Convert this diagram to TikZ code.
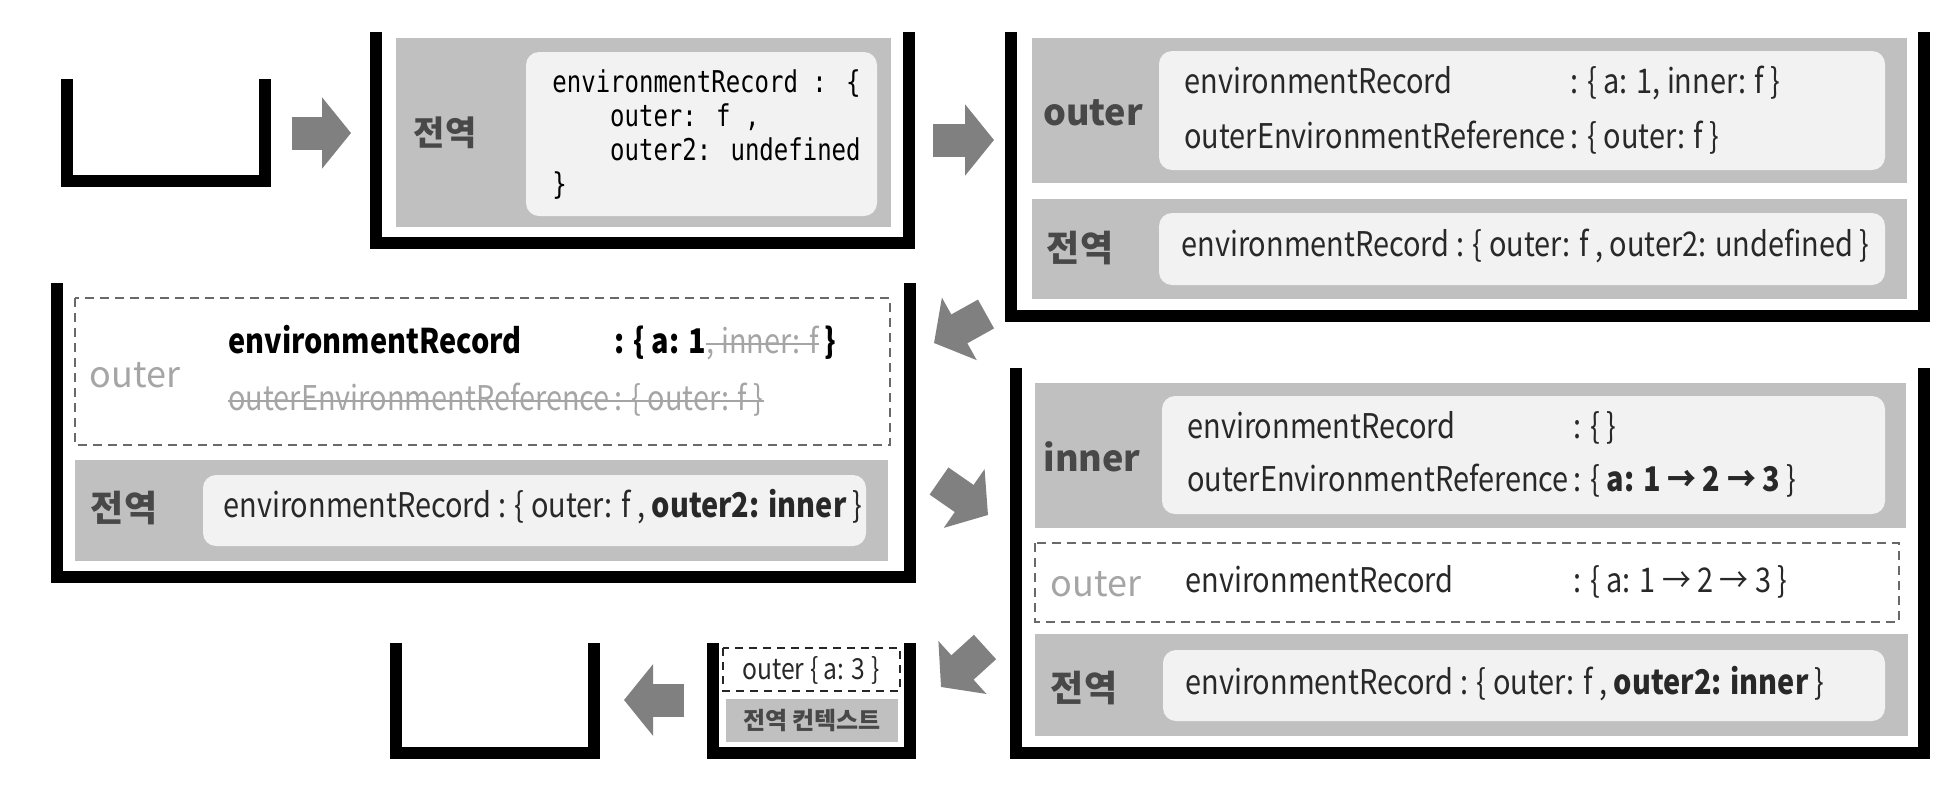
\documentclass[tikz,border=0pt]{standalone}
\usepackage{fontspec}
\setmainfont{Noto Sans CJK KR}
\newfontfamily\recfont[FakeStretch=0.85]{Noto Sans CJK KR}
\newfontfamily\codefont[FakeStretch=0.8]{DejaVu Sans Mono}
\usetikzlibrary{positioning,arrows.meta}

\definecolor{blockgray}{RGB}{192,192,192}
\definecolor{recwhite}{RGB}{242,242,242}
\definecolor{arrowgray}{RGB}{128,128,128}
\definecolor{labelgray}{RGB}{72,72,72}
\definecolor{fadedgray}{RGB}{165,165,165}
\definecolor{dashgray}{RGB}{105,105,105}
\definecolor{textdark}{RGB}{40,40,40}

\begin{document}
\begin{tikzpicture}[x=0.5pt,y=-0.5pt,
  wall/.style={line width=6.25pt,line join=miter,line cap=butt},
  block/.style={fill=blockgray},
  rec/.style={fill=recwhite,rounded corners=6.5pt},
  dashbox/.style={draw=dashgray,line width=1pt,dash pattern=on 4.5pt off 3pt},
  ctx/.style={font={\bfseries\fontsize{18}{20}\selectfont},text=labelgray,inner sep=0pt},
  oldctx/.style={font={\fontsize{18}{20}\selectfont},text=fadedgray,inner sep=0pt},
  txt/.style={font={\recfont\fontsize{17}{19}\selectfont},text=textdark,anchor=base west,inner sep=0pt},
  boldtxt/.style={txt,font={\recfont\bfseries\fontsize{17}{19}\selectfont},text=black},
  flow/.style={draw=arrowgray,line width=16.5pt,-{Triangle[length=14.5pt,width=35pt]}},
  strike/.style={draw=fadedgray,line width=0.8pt}]
\useasboundingbox (0,0) rectangle (1955,799);

% empty stack
\draw[wall] (67,79) -- (67,181) -- (265,181) -- (265,79);

% global context only
\draw[wall] (376,32) -- (376,243) -- (909,243) -- (909,32);
\fill[block] (396,38) rectangle (891,227);
\fill[rec] (526,52) rectangle (877,216);
\node[ctx,font={\bfseries\fontsize{17}{19}\selectfont}] (p2glob) at (445,133) {전역};
\node[anchor=north west,inner sep=0pt,align=left,font={\codefont\fontsize{15}{17}\selectfont}] (p2code) at (552,69)
  {environmentRecord : \{\\\hphantom{xxxx}outer: f ,\\\hphantom{xxxx}outer2: undefined\\\}};

% outer called
\draw[wall] (1011,32) -- (1011,316) -- (1924,316) -- (1924,32);
\fill[block] (1032,38) rectangle (1907,183);
\fill[rec] (1159,51) rectangle (1885,170);
\fill[block] (1032,199) rectangle (1907,299);
\fill[rec] (1159,213) rectangle (1885,285);
\node[ctx] (p3outer) at (1093,113) {outer};
\node[txt] (p3n1) at (1184,93) {environmentRecord};
\node[txt] (p3n2) at (1184,148) {outerEnvironmentReference};
\node[txt] (p3v2) at ([xshift=2pt]p3n2.base east) {: \{ outer: f \}};
\node[txt] (p3v1) at (p3v2.base west |- p3n1.base) {: \{ a: 1, inner: f \}};
\node[ctx] (p3glob) at (1080,248) {전역};
\node[txt] (p3g) at (1181,256) {environmentRecord : \{ outer: f , outer2: undefined \}};

% outer finished
\draw[wall] (57,283) -- (57,577) -- (910,577) -- (910,283);
\draw[dashbox] (75,298) rectangle (890,445);
\fill[block] (75,460) rectangle (888,561);
\fill[rec] (203,475) rectangle (866,546);
\node[oldctx] (p4outer) at (135,375) {outer};
\node[boldtxt] (p4n1) at (228,353) {environmentRecord};
\node[txt,text=fadedgray] (p4n2) at (228,410) {outerEnvironmentReference};
\node[txt,text=fadedgray] (p4v2) at ([xshift=2pt]p4n2.base east) {: \{ outer: f \}};
\node[boldtxt] (p4v1) at (p4v2.base west |- p4n1.base) {: \{ a: 1};
\node[txt,text=fadedgray] (p4s1) at (p4v1.base east) {, inner: f};
\node[boldtxt] (p4c1) at (p4s1.base east) {\,\}};
\draw[strike] ([yshift=4.5pt]p4s1.base west) -- ([yshift=4.5pt]p4s1.base east);
\draw[strike] ([yshift=4.5pt]p4n2.base west) -- ([yshift=4.5pt]p4v2.base east);
\node[ctx] (p4glob) at (124,508) {전역};
\node[txt] (p4g) at (223,517) {environmentRecord : \{ outer: f , \textbf{outer2: inner} \}};

% inner called
\draw[wall] (1016,368) -- (1016,753) -- (1924,753) -- (1924,368);
\fill[block] (1035,383) rectangle (1906,528);
\fill[rec] (1162,396) rectangle (1885,514);
\draw[dashbox] (1035,543) rectangle (1899,622);
\fill[block] (1035,634) rectangle (1908,736);
\fill[rec] (1163,650) rectangle (1885,721);
\node[ctx] (p5inner) at (1092,457) {inner};
\node[txt] (p5n1) at (1187,438) {environmentRecord};
\node[txt] (p5n2) at (1187,491) {outerEnvironmentReference};
\node[txt] (p5v2) at ([xshift=2pt]p5n2.base east) {: \{ \textbf{a: 1 → 2 → 3} \}};
\node[txt] (p5v1) at (p5v2.base west |- p5n1.base) {: \{ \}};
\node[oldctx] (p5outer) at (1096,584) {outer};
\node[txt] (p5n3) at (1185,592) {environmentRecord};
\node[txt] (p5v3) at (p5v2.base west |- p5n3.base) {: \{ a: 1 → 2 → 3 \}};
\node[ctx] (p5glob) at (1084,688) {전역};
\node[txt] (p5g) at (1185,694) {environmentRecord : \{ outer: f , \textbf{outer2: inner} \}};

% back to global
\draw[wall] (713,643) -- (713,753) -- (910,753) -- (910,643);
\draw[draw=black!85,line width=1.2pt,dash pattern=on 4pt off 3pt] (723,648) rectangle (900,691);
\fill[block] (726,699) rectangle (898,742);
\node[font={\recfont\fontsize{14.5}{16}\selectfont},text=textdark] (p6outer) at (811,670) {outer \{ a: 3 \}};
\node[font={\bfseries\fontsize{12}{14}\selectfont},text=labelgray] (p6glob) at (812,720) {전역 컨텍스트};

% empty again
\draw[wall] (396,643) -- (396,753) -- (594,753) -- (594,643);

% flow arrows
\coordinate (a1s) at (292,133); \coordinate (a1e) at (351,133);
\coordinate (a2s) at (933,140); \coordinate (a2e) at (994,140);
\coordinate (a3s) at (986,314); \coordinate (a3e) at (934,343);
\coordinate (a4s) at (939,481); \coordinate (a4e) at (988,515);
\coordinate (a5s) at (985,647); \coordinate (a5e) at (941,687);
\coordinate (a6s) at (684,700); \coordinate (a6e) at (624,700);
\draw[flow] (a1s) -- (a1e);
\draw[flow] (a2s) -- (a2e);
\draw[flow] (a3s) -- (a3e);
\draw[flow] (a4s) -- (a4e);
\draw[flow] (a5s) -- (a5e);
\draw[flow] (a6s) -- (a6e);
\end{tikzpicture}
\end{document}
